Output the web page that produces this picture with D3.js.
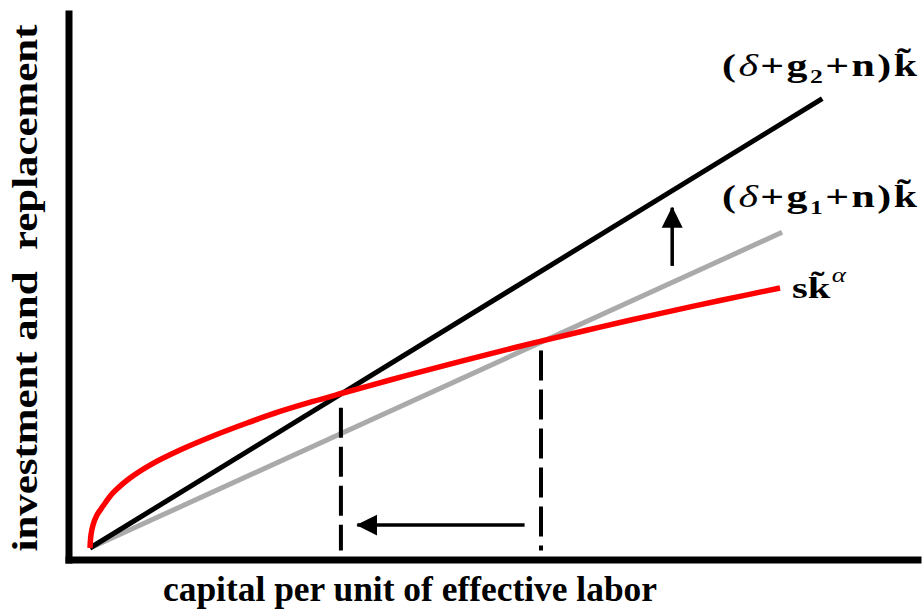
<!DOCTYPE html>
<html>
<head>
<meta charset="utf-8">
<script src="https://cdn.jsdelivr.net/npm/d3@7"></script>
<style>
  html, body { margin: 0; padding: 0; background: #fff; }
  svg { display: block; }
  text { font-family: "Liberation Serif", "Times New Roman", serif; font-weight: bold; fill: #000; }
</style>
</head>
<body>
<svg id="chart" width="923" height="612"></svg>
<script>
// Capital per effective worker (k) and the two break-even investment lines.
const breakEvenK = [0, 89.3];
const breakEvenHigh = [0, 54.8];          // (δ + g2 + n) k
const breakEvenLowK = [0, 84.4];
const breakEvenLow = [0, 38.5];           // (δ + g1 + n) k

// Actual investment s·k^α
const investK = [0, 0.12, 0.37, 0.85, 1.59, 2.80, 4.88, 7.32, 10.98, 15.0, 19.15, 23.17, 27.2, 30.85, 36.59, 41.46, 48.78, 54.88, 62.2, 69.88, 76.83, 84.15];
const investV = [0, 1.59, 2.80, 4.02, 5.12, 6.71, 8.54, 10.12, 11.95, 13.66, 15.24, 16.65, 17.87, 18.90, 20.49, 21.79, 23.68, 25.20, 26.94, 28.68, 30.18, 31.71];

// Steady states before and after the rise in g, with dashed drop lines
const steadyK = [30.6, 55.0];
const steadyTop = [17.1, 24.1];

const labels = {
  yTitle: "investment and  replacement",
  xTitle: "capital per unit of effective labor"
};

const W = 923, H = 612;
const svg = d3.select("#chart");
svg.append("rect").attr("width", W).attr("height", H).attr("fill", "#fff");

const x = d3.scaleLinear().domain([0, 100]).range([90, 910]);
const y = d3.scaleLinear().domain([0, 60]).range([548, 56]);

// Frame axes (no ticks)
const xFrame = d3.scaleLinear().domain([0, 1]).range([65, 921]);
const yFrame = d3.scaleLinear().domain([0, 1]).range([563, 10]);

const gx = svg.append("g").attr("transform", "translate(0,559.5)")
  .call(d3.axisBottom(xFrame).tickValues([]).tickSizeOuter(0));
gx.select(".domain").attr("stroke", "#000").attr("stroke-width", 7);

const gy = svg.append("g").attr("transform", "translate(68.5,0)")
  .call(d3.axisLeft(yFrame).tickValues([]).tickSizeOuter(0));
gy.select(".domain").attr("stroke", "#000").attr("stroke-width", 7);

const line = d3.line().x(d => x(d[0])).y(d => y(d[1]));
const smooth = d3.line().x(d => x(d[0])).y(d => y(d[1])).curve(d3.curveCatmullRom.alpha(0.5));

// Gray: lower break-even line
svg.append("path")
  .datum(breakEvenLowK.map((k, i) => [k, breakEvenLow[i]]))
  .attr("d", line).attr("fill", "none")
  .attr("stroke", "#aaaaaa").attr("stroke-width", 5);

// Black: higher break-even line
svg.append("path")
  .datum(breakEvenK.map((k, i) => [k, breakEvenHigh[i]]))
  .attr("d", line).attr("fill", "none")
  .attr("stroke", "#000").attr("stroke-width", 5);

// Red: investment curve
svg.append("path")
  .datum(investK.map((k, i) => [k, investV[i]]))
  .attr("d", smooth).attr("fill", "none")
  .attr("stroke", "#ff0000").attr("stroke-width", 5.5)
  .attr("stroke-linejoin", "round");

// Dashed verticals at the two steady states
svg.selectAll(".drop").data(steadyK).join("line")
  .attr("class", "drop")
  .attr("x1", d => x(d)).attr("x2", d => x(d))
  .attr("y1", (d, i) => y(steadyTop[i])).attr("y2", y(-0.3))
  .attr("stroke", "#000").attr("stroke-width", 4)
  .attr("stroke-dasharray", "30,9");

// Arrows
const defs = svg.append("defs");
defs.append("marker").attr("id", "head")
  .attr("viewBox", "0 0 10 10").attr("refX", 9.5).attr("refY", 5)
  .attr("markerUnits", "userSpaceOnUse")
  .attr("markerWidth", 21).attr("markerHeight", 34).attr("orient", "auto")
  .append("path").attr("d", "M0,0 L10,5 L0,10 Z").attr("fill", "#000");

const arrows = [
  { from: [53.0, 2.8], to: [32.6, 2.8] },
  { from: [71.0, 34.4], to: [71.0, 41.5] }
];
svg.selectAll(".arrow").data(arrows).join("line")
  .attr("class", "arrow")
  .attr("x1", d => x(d.from[0])).attr("y1", d => y(d.from[1]))
  .attr("x2", d => x(d.to[0])).attr("y2", d => y(d.to[1]))
  .attr("stroke", "#000").attr("stroke-width", 3.5)
  .attr("marker-end", "url(#head)");

// Axis titles
svg.append("text")
  .attr("transform", "translate(37,288) rotate(-90)")
  .attr("text-anchor", "middle")
  .attr("font-size", 35)
  .attr("textLength", 527).attr("lengthAdjust", "spacingAndGlyphs")
  .style("white-space", "pre")
  .text(labels.yTitle);

svg.append("text")
  .attr("x", 410).attr("y", 601)
  .attr("text-anchor", "middle")
  .attr("font-size", 36)
  .attr("textLength", 494).attr("lengthAdjust", "spacingAndGlyphs")
  .text(labels.xTitle);

// Curve labels (set slightly wide)
const wide = 1.35;
function breakEvenLabel(x0, yb, sub) {
  const t = svg.append("text")
    .attr("transform", `translate(${x0},${yb}) scale(${wide},1)`)
    .attr("font-size", 31)
    .attr("textLength", 195 / wide).attr("lengthAdjust", "spacing");
  t.append("tspan").text("(");
  t.append("tspan").attr("font-style", "italic").attr("font-weight", "normal").text("δ");
  t.append("tspan").text("+g");
  t.append("tspan").attr("font-size", 19).attr("dy", 7).text(sub);
  t.append("tspan").attr("dy", -7).text("+n)k\u0303");
}
breakEvenLabel(722, 76, "2");
breakEvenLabel(722, 207, "1");

const s = svg.append("text")
  .attr("transform", `translate(792,298) scale(${wide},1)`)
  .attr("font-size", 30);
s.append("tspan").text("sk\u0303");
s.append("tspan").attr("font-size", 20).attr("dy", -16).attr("dx", 1)
  .attr("font-style", "italic").attr("font-weight", "normal").text("α");
</script>
</body>
</html>
